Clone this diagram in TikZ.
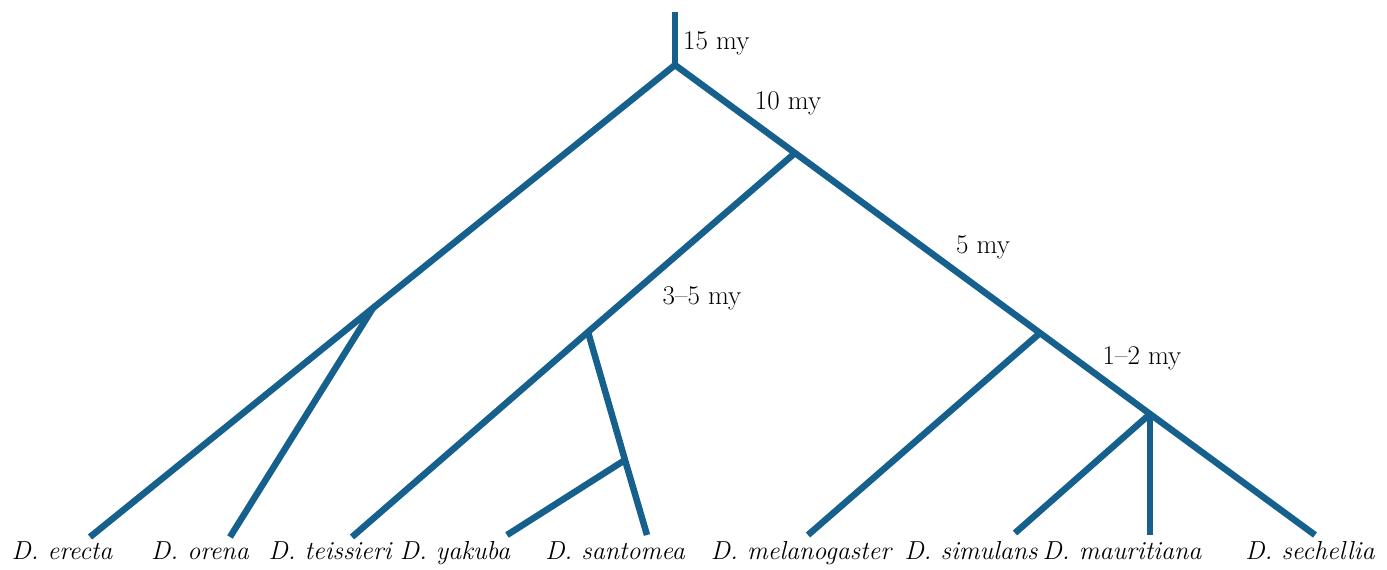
\documentclass[tikz,border=0pt]{standalone}
\definecolor{treeblue}{RGB}{22,96,142}
\frenchspacing
\tikzset{
  branch/.style={draw=treeblue, line width=6.5pt, line join=miter},
  age/.style={font=\fontsize{27}{31}\selectfont, inner sep=0pt},
  taxon/.style={font=\fontsize{26}{30}\selectfont\itshape, inner sep=0pt, anchor=base}
}
\begin{document}
\begin{tikzpicture}[x=1pt,y=-1pt]
\useasboundingbox (0,0) rectangle (1387,570);
% internal nodes
\coordinate (top) at (675,12);
\coordinate (root) at (675,65);
\coordinate (nL) at (373,308);
\coordinate (nR) at (795,153);
\coordinate (nT) at (588,332);
\coordinate (nY) at (625,460);
\coordinate (nM) at (1040,333);
\coordinate (nS) at (1150,414);
% tips
\coordinate (erecta) at (90,537);
\coordinate (orena) at (230,537);
\coordinate (teissieri) at (352,537);
\coordinate (yakuba) at (507,535);
\coordinate (santomea) at (647,535);
\coordinate (melanogaster) at (808,535);
\coordinate (simulans) at (1015,533);
\coordinate (mauritiana) at (1150,535);
\coordinate (sechellia) at (1315,535);
% branches
\draw[branch] (top) -- (root);
\draw[branch] (root) -- (nL) -- (erecta);
\draw[branch] (nL) -- (orena);
\draw[branch] (root) -- (nR) -- (nM) -- (nS) -- (sechellia);
\draw[branch] (nR) -- (nT) -- (teissieri);
\draw[branch] (nT) -- (nY) -- (santomea);
\draw[branch] (nY) -- (yakuba);
\draw[branch] (nM) -- (melanogaster);
\draw[branch] (nS) -- (simulans);
\draw[branch] (nS) -- (mauritiana);
% age labels
\node[age, anchor=west] (a15) at (683,43) {15 my};
\node[age] (a10) at (788,103) {10 my};
\node[age] (a5) at (983,247) {5 my};
\node[age] (a35) at (702,298) {3--5 my};
\node[age] (a12) at (1142,358) {1--2 my};
% taxon labels
\node[taxon] (t1) at (62,559) {D. erecta};
\node[taxon] (t2) at (200,559) {D. orena};
\node[taxon] (t3) at (330,559) {D. teissieri};
\node[taxon] (t4) at (455,559) {D. yakuba};
\node[taxon] (t5) at (615,559) {D. santomea};
\node[taxon] (t6) at (801,559) {D. melanogaster};
\node[taxon] (t7) at (971,559) {D. simulans};
\node[taxon] (t8) at (1122,559) {D. mauritiana};
\node[taxon] (t9) at (1310,559) {D. sechellia};
\end{tikzpicture}
\end{document}
